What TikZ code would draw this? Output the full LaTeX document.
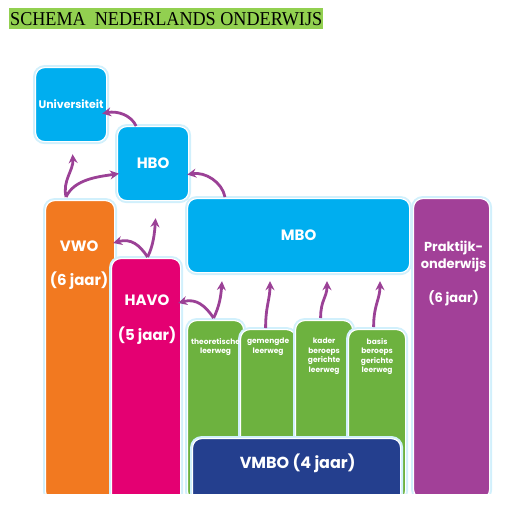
\documentclass[tikz,border=0pt]{standalone}
\usepackage{fontspec}
\setmainfont{Liberation Serif}
\newfontfamily\schoolfont{Poppins}
\usetikzlibrary{arrows.meta,calc}
\definecolor{hoger}{RGB}{0,174,239}
\definecolor{oranje}{RGB}{242,121,32}
\definecolor{roze}{RGB}{228,0,114}
\definecolor{groen}{RGB}{109,178,63}
\definecolor{donkerblauw}{RGB}{36,63,142}
\definecolor{paars}{RGB}{162,64,152}
\definecolor{pijlpaars}{RGB}{155,65,150}
\definecolor{titelgroen}{RGB}{146,208,80}

\begin{document}
\begin{tikzpicture}[x=1pt,y=-1pt]
\tikzstyle{blok}=[draw=white, line width=1.2pt, rounded corners=9pt, anchor=north west, inner sep=0pt, text=white, preaction={draw=hoger!18, line width=5pt}]
\tikzstyle{tekst}=[text=white, inner sep=0pt, align=center]
\tikzstyle{groot}=[font=\schoolfont\bfseries\fontsize{15}{17}\selectfont]
\tikzstyle{klein}=[font=\schoolfont\bfseries\fontsize{7.5}{9.5}\selectfont, anchor=north]
\tikzstyle{pijl}=[draw=pijlpaars, line width=2.8pt, -{Stealth[length=9pt,width=9pt,inset=3pt]}]
\useasboundingbox (0,0) rectangle (527,504);

\node[fill=titelgroen, minimum width=314pt, minimum height=21pt, inner sep=0pt, anchor=north west] (titel) at (9,8) {};
\node[inner sep=0pt] at (titel.center) {\resizebox{312pt}{13pt}{SCHEMA\ \ NEDERLANDS ONDERWIJS}};

\begin{scope}
\clip (0,0) rectangle (527,493);
\node[blok, fill=hoger, minimum width=71pt, minimum height=74pt, font=\schoolfont\bfseries\fontsize{11}{13}\selectfont] (uni) at (35,67) {Universiteit};
\node[blok, fill=hoger, minimum width=222pt, minimum height=74pt, groot] (mbo) at (187,198) {MBO};
\node[blok, fill=hoger, minimum width=71pt, minimum height=74pt, groot] (hbo) at (117,126) {HBO};
\node[blok, fill=paars, minimum width=76pt, minimum height=300pt] (prakt) at (413,198) {};
\node[blok, fill=oranje, minimum width=69pt, minimum height=300pt] (vwo) at (45,200) {};
\node[blok, fill=roze, minimum width=69pt, minimum height=250pt] (havo) at (111,258) {};
\node[blok, fill=groen, minimum width=56pt, minimum height=180pt] (theor) at (187,320) {};
\node[blok, fill=groen, minimum width=55pt, minimum height=170pt] (gemengd) at (240,329) {};
\node[blok, fill=groen, minimum width=57pt, minimum height=180pt] (kader) at (295,320) {};
\node[blok, fill=groen, minimum width=57pt, minimum height=170pt] (basis) at (348,329) {};
\node[blok, fill=donkerblauw, minimum width=208pt, minimum height=70pt] (vmbo) at (192,438) {};

\node[tekst, groot] at ($(vwo.north)+(-1,46)$) {VWO};
\node[tekst, groot] at ($(vwo.north)+(-1,81)$) {(6 jaar)};
\node[tekst, groot] at ($(havo.north)+(1,42)$) {HAVO};
\node[tekst, groot] at ($(havo.north)+(1,78)$) {(5 jaar)};
\node[tekst, font=\schoolfont\bfseries\fontsize{13}{17}\selectfont] at ($(prakt.north)+(2,59)$) {Praktijk-\\onderwijs};
\node[tekst, font=\schoolfont\bfseries\fontsize{13}{17}\selectfont] at ($(prakt.north)+(2,100)$) {(6 jaar)};
\node[tekst, font=\schoolfont\bfseries\fontsize{16}{18}\selectfont] at ($(vmbo.north)+(1,25)$) {VMBO (4 jaar)};

\coordinate (tekstlijn) at (0,338);
\node[tekst, klein] at (theor.north |- tekstlijn) {theoretische\\leerweg};
\node[tekst, klein] at (gemengd.north |- tekstlijn) {gemengde\\leerweg};
\node[tekst, klein] at (kader.north |- tekstlijn) {kader\\beroeps\\gerichte\\leerweg};
\node[tekst, klein] at (basis.north |- tekstlijn) {basis\\beroeps\\gerichte\\leerweg};

\draw[pijl] ($(hbo.north)+(-17,0)$) .. controls +(-5,-11) and +(15,-3) .. ($(uni.east)+(-5,9)$);
\draw[pijl] ($(vwo.north)+(-14,-3)$) .. controls +(-4,-16) and +(1,16) .. ($(uni.south)+(1.5,12)$);
\draw[pijl] ($(vwo.north)+(-14,-3)$) .. controls +(8,-18) and +(-20,3) .. ($(hbo.west)+(2,10)$);
\draw[pijl] ($(mbo.north west)+(38,-1)$) .. controls +(-3,-15) and +(18,-3) .. ($(hbo.east)+(-2,11)$);
\draw[pijl] ($(havo.north)+(1.5,-1)$) .. controls +(-8,-12) and +(18,-5) .. ($(vwo.north east)+(-2,43)$);
\draw[pijl] ($(havo.north)+(1.5,-1)$) .. controls +(6,-12) and +(-1,14) .. ($(hbo.south)+(2.5,17)$);
\draw[pijl] ($(theor.north)+(-2,-2)$) .. controls +(-8,-12) and +(18,-5) .. ($(havo.north east)+(-3,45)$);
\draw[pijl] ($(theor.north)+(-2,-2)$) .. controls +(6,-12) and +(-1,14) .. ($(mbo.south west)+(35,8)$);
\draw[pijl] ($(gemengd.north)+(-2.5,-1)$) .. controls +(0,-22) and +(0,18) .. ($(mbo.south west)+(83,8)$);
\draw[pijl] ($(kader.north)+(-3.5,-2)$) .. controls +(0,-18) and +(0,16) .. ($(mbo.south west)+(140,8)$);
\draw[pijl] ($(basis.north)+(-3.5,-2)$) .. controls +(0,-22) and +(0,18) .. ($(mbo.south west)+(193,8)$);
\end{scope}
\end{tikzpicture}
\end{document}
